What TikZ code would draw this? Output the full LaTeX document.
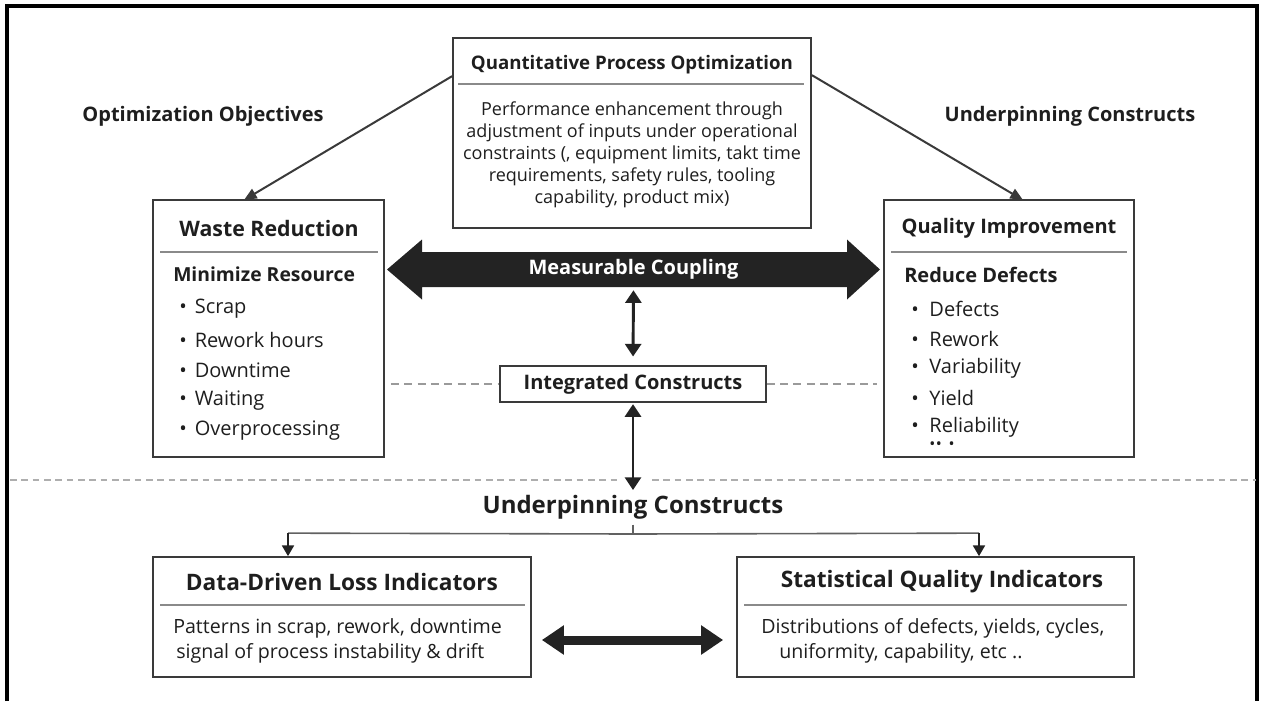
\documentclass[tikz,border=0pt]{standalone}
\usepackage{fontspec}
\setmainfont{Open Sans}
\usetikzlibrary{arrows.meta,calc,fit}

\definecolor{ink}{HTML}{1E1E1E}
\definecolor{boxline}{HTML}{3A3A3A}
\definecolor{rulegray}{HTML}{8A8A8A}
\definecolor{dashgray}{HTML}{9A9A9A}
\definecolor{arrowdark}{HTML}{232323}

\tikzset{
  panel/.style={draw=boxline, line width=1.3pt, inner sep=0pt},
  headrule/.style={draw=rulegray, line width=1.5pt},
  titlefont/.style={font=\bfseries\fontsize{#1}{18}\selectfont, text=ink, inner sep=0pt},
  titlefont/.default=15,
  bodyfont/.style={font=\fontsize{#1}{16.5}\selectfont, text=ink, inner sep=0pt},
  bodyfont/.default=13.5,
  itemfont/.style={font=\fontsize{15}{16.5}\selectfont, text=ink, inner sep=0pt, anchor=west},
  thinarrow/.style={draw=boxline, line width=1.5pt, -{Triangle[length=9.5pt,width=8pt]}},
  vdouble/.style={draw=arrowdark, line width=2.2pt, {Triangle[length=9.5pt,width=12pt]}-{Triangle[length=9.5pt,width=12pt]}},
  hdouble/.style={draw=arrowdark, line width=6.75pt, {Triangle[length=16.5pt,width=21pt]}-{Triangle[length=16.5pt,width=21pt]}},
  linkdash/.style={draw=dashgray, line width=1.3pt, dash pattern=on 6pt off 4pt},
  sepdash/.style={draw=dashgray!80, line width=1.5pt, dash pattern=on 5pt off 3.5pt},
  treeline/.style={draw=boxline!80, line width=1.2pt},
  treearrow/.style={draw=arrowdark, line width=1.2pt, -{Triangle[length=8pt,width=9pt]}},
}

\begin{document}
\begin{tikzpicture}[x=0.75pt, y=-0.75pt]
\useasboundingbox (0,0) rectangle (1261,701);

% outer frame (open at the bottom)
\draw[black, line width=2.3pt] (7,701) -- (7,6) -- (1257,6) -- (1257,701);

% ---------- top box ----------
\node[panel, fit={(453,38) (811,228)}] (qpo) {};
\node[titlefont=14] (qpoT) at (632,65) {Quantitative Process Optimization};
\draw[headrule] ($(qpo.north west)+(6,47)$) -- ($(qpo.north east)+(-8,47)$);
\node[bodyfont, align=center] (qpoB) at (632,155)
  {Performance enhancement through\\
   adjustment of inputs under operational\\
   constraints (, equipment limits, takt time\\
   requirements, safety rules, tooling\\
   capability, product mix)};

% side captions
\node[titlefont] (capL) at (203,116) {Optimization Objectives};
\node[titlefont] (capR) at (1070,116) {Underpinning Constructs};

% ---------- waste box ----------
\node[panel, fit={(153,200) (384,457)}] (waste) {};
\node[titlefont=16] (wasteT) at (269,228) {Waste Reduction};
\draw[headrule] ($(waste.north west)+(8,53)$) -- ($(waste.north east)+(-7,53)$);
\node[titlefont=14.5, anchor=west] (wasteS) at (173,274) {Minimize Resource};
\foreach \t [count=\i] in {Scrap, Rework hours, Downtime, Waiting, Overprocessing} {
  \node[itemfont] (w\i) at (179,{309+30.5*(\i-1)}) {\textbullet\hspace{6pt}\t};
}

% ---------- quality box ----------
\node[panel, fit={(884,200) (1134,457)}] (qi) {};
\node[titlefont] (qiT) at (1009,228) {Quality Improvement};
\draw[headrule] ($(qi.north west)+(8,53)$) -- ($(qi.north east)+(-8,53)$);
\node[titlefont, anchor=west] (qiS) at (904,275) {Reduce Defects};
\foreach \t [count=\i] in {Defects, Rework, Variability, Yield, Reliability} {
  \node[itemfont] (q\i) at (911,{309+29.5*(\i-1)}) {\textbullet\hspace{8pt}\t};
}
\node[font=\fontsize{12}{12}\selectfont, text=ink, inner sep=0pt, anchor=west] (qdots) at (929,446)
  {\textbullet\hspace{0.5pt}\textbullet\hspace{5pt}\textbullet};

% connectors from the top box
\draw[thinarrow] ($(qpo.north west)+(0,39)$) -- (244,200);
\draw[thinarrow] ($(qpo.north east)+(0,38)$) -- (1023,200);

% ---------- measurable coupling ----------
\node[minimum width=320pt, minimum height=26.25pt, inner sep=0pt] (couple) at (633.5,269.5) {};
\fill[arrowdark] (387,269.5) -- (422,239.5) -- (422,252) -- (847,252) -- (847,239.5)
  -- (880,269.5) -- (847,299.5) -- (847,287) -- (422,287) -- (422,299.5) -- cycle;
\node[titlefont, text=white] (coupleT) at (couple.center) {Measurable Coupling};

% ---------- integrated constructs ----------
\node[draw=boxline, line width=1.2pt, minimum width=199.5pt, minimum height=27pt,
      font=\bfseries\fontsize{15}{18}\selectfont, text=ink] (integ) at (633,384) {Integrated Constructs};
\draw[vdouble, shorten <=2.25pt, shorten >=6.5pt] (couple.south) -- (integ.north);
\coordinate (hub) at (633,490);
\draw[vdouble, shorten <=1pt] (integ.south) -- (hub);
\draw[linkdash, shorten <=4.5pt] (waste.east |- integ.west) -- (integ.west);
\draw[linkdash, shorten >=4.5pt] (integ.east) -- (qi.west |- integ.east);

% section divider
\coordinate (divL) at (10,480);
\coordinate (divA) at (617,480);
\coordinate (divB) at (652,480);
\coordinate (divR) at (1256,480);
\draw[sepdash] (divL) -- (divA);
\draw[sepdash] (divB) -- (divR);

% ---------- lower part ----------
\node[titlefont=18, inner ysep=4pt] (under) at (633,507) {Underpinning Constructs};
\coordinate (junction) at (633,534);

\node[panel, fit={(153,557) (531,677)}] (data) {};
\node[titlefont=17] (dataT) at (342,582) {Data-Driven Loss Indicators};
\draw[headrule] ($(data.north west)+(8,49)$) -- ($(data.north east)+(-7,49)$);
\node[bodyfont=14.7, anchor=west] (data1) at (173,628) {Patterns in scrap, rework, downtime};
\node[bodyfont=14.7, anchor=west] (data2) at (176,653) {signal of process instability \& drift};

\node[panel, fit={(737,557) (1134,677)}] (stat) {};
\node[titlefont=17] (statT) at (942,582) {Statistical Quality Indicators};
\draw[headrule] ($(stat.north west)+(8,49)$) -- ($(stat.north east)+(-8,49)$);
\node[bodyfont=14.7, anchor=west] (stat1) at (761,628) {Distributions of defects, yields, cycles,};
\node[bodyfont=14.7, anchor=west] (stat2) at (779,653) {uniformity, capability, etc ..};

\draw[treeline] (under.south) -- (junction);
\draw[treeline] (junction) -- ($(data.north)+(-54,-23)$);
\draw[treeline] (junction) -- ($(stat.north)+(43.5,-23)$);
\draw[treearrow] ($(data.north)+(-54,-23)$) -- ($(data.north)+(-54,0)$);
\draw[treearrow] ($(stat.north)+(43.5,-23)$) -- ($(stat.north)+(43.5,0)$);

\draw[hdouble, shorten <=7.5pt, shorten >=9.75pt] ($(data.east)+(0,23)$) -- ($(stat.west)+(0,23)$);
\end{tikzpicture}
\end{document}
